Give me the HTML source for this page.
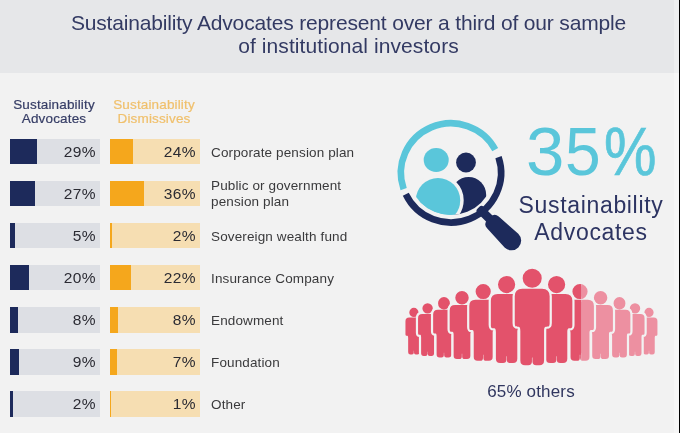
<!DOCTYPE html>
<html><head><meta charset="utf-8"><title>Sustainability Advocates</title>
<style>
html,body{margin:0;padding:0}
body{width:680px;height:433px;overflow:hidden;background:#f2f2f2;position:relative;font-family:"Liberation Sans",sans-serif}
.strip{position:absolute;left:674px;top:0;width:5px;height:433px;background:rgba(255,255,255,.3)}
.edge{position:absolute;left:678.8px;top:0;width:1.2px;height:433px;background:#000}
.hdr{position:absolute;left:0;top:0;width:679px;height:72.5px;background:#e6e7e9}
.t{position:absolute;left:0;width:697px;text-align:center;color:#333a63;font-size:21px;line-height:23px;white-space:nowrap}
.t1{top:10.5px;letter-spacing:-0.16px}
.t2{top:33.5px;letter-spacing:0.09px}
.ch{position:absolute;top:98px;-webkit-text-stroke:.2px currentColor;width:110px;text-align:center;font-size:13.5px;line-height:14px;letter-spacing:.15px;white-space:nowrap}
.ch1{left:-1px;color:#363d66}
.ch2{left:99px;color:#f0c06c}
.bar{position:absolute;height:24.9px;width:90px}
.bar i{position:absolute;left:0;top:0;height:100%;display:block}
.bar b{position:absolute;right:4px;top:0;line-height:26px;font-weight:normal;font-size:15.5px;letter-spacing:.3px;color:#2b2b33}
.ba{left:9.8px;background:#dddfe4}
.ba i{background:#1d2a5b}
.bd{left:109.7px;width:90.1px;background:#f6deb2}
.bd i{background:#f5a71c}
.lab{position:absolute;left:211px;font-size:13.5px;line-height:16px;letter-spacing:.13px;color:#3a3a3c;white-space:nowrap}
.big{position:absolute;left:0;top:112.7px;width:680px;height:78px;font-size:69px;line-height:78px;color:#5ac6da;white-space:nowrap}
.big span{position:absolute;top:0;transform-origin:0 0;display:block}
.sa{position:absolute;left:491px;width:200px;top:191.5px;text-align:center;font-size:23px;line-height:27px;letter-spacing:.66px;color:#2d3462;white-space:nowrap}
.oth{position:absolute;left:431px;width:200px;top:381.5px;text-align:center;font-size:17px;line-height:20px;letter-spacing:.17px;color:#30365f;white-space:nowrap}
svg{position:absolute;left:0;top:0}
</style></head><body>
<div class="hdr"></div>
<div class="strip"></div>
<div class="edge"></div>
<div class="t t1">Sustainability Advocates represent over a third of our sample</div>
<div class="t t2">of institutional investors</div>
<div class="ch ch1">Sustainability<br>Advocates</div>
<div class="ch ch2">Sustainability<br>Dismissives</div>
<div class="bar ba" style="top:139.2px;height:24.9px"><i style="width:27.1px"></i><b>29%</b></div>
<div class="bar bd" style="top:139.2px;height:24.9px"><i style="width:23.0px"></i><b>24%</b></div>
<div class="lab" style="top:144.6px">Corporate pension plan</div>
<div class="bar ba" style="top:181.2px;height:24.9px"><i style="width:25.3px"></i><b>27%</b></div>
<div class="bar bd" style="top:181.2px;height:24.9px"><i style="width:34.2px"></i><b>36%</b></div>
<div class="lab" style="top:178.0px">Public or government<br>pension plan</div>
<div class="bar ba" style="top:223.2px;height:24.9px"><i style="width:5.5px"></i><b>5%</b></div>
<div class="bar bd" style="top:223.2px;height:24.9px"><i style="width:2.6px"></i><b>2%</b></div>
<div class="lab" style="top:228.6px">Sovereign wealth fund</div>
<div class="bar ba" style="top:265.2px;height:25.1px"><i style="width:19.0px"></i><b>20%</b></div>
<div class="bar bd" style="top:265.2px;height:25.1px"><i style="width:21.2px"></i><b>22%</b></div>
<div class="lab" style="top:270.6px">Insurance Company</div>
<div class="bar ba" style="top:307.2px;height:25.9px"><i style="width:8.2px"></i><b>8%</b></div>
<div class="bar bd" style="top:307.2px;height:25.9px"><i style="width:8.1px"></i><b>8%</b></div>
<div class="lab" style="top:312.6px">Endowment</div>
<div class="bar ba" style="top:349.2px;height:25.9px"><i style="width:9.1px"></i><b>9%</b></div>
<div class="bar bd" style="top:349.2px;height:25.9px"><i style="width:7.2px"></i><b>7%</b></div>
<div class="lab" style="top:354.6px">Foundation</div>
<div class="bar ba" style="top:391.2px;height:25.9px"><i style="width:2.8px"></i><b>2%</b></div>
<div class="bar bd" style="top:391.2px;height:25.9px"><i style="width:1.6px"></i><b>1%</b></div>
<div class="lab" style="top:396.6px">Other</div>
<svg width="680" height="433" viewBox="0 0 680 433">
<defs>
<clipPath id="lens"><ellipse cx="451.0" cy="172.9" rx="42.6" ry="42.1"/></clipPath>
<clipPath id="cl"><rect x="0" y="0" width="581.4" height="433"/></clipPath>
<clipPath id="cr"><rect x="581.4" y="0" width="100" height="433"/></clipPath>
<g id="ppl">
<path d="M644.24,317.51H653.76Q657.44,317.51 657.44,321.19V334.11C657.44,335.86 656.90,335.86 656.09,335.86C655.28,335.86 654.74,335.86 654.74,337.96V352.24Q654.74,354.50 652.48,354.50H650.89Q649.12,354.50 649.12,352.73V350.82H648.88V352.73Q648.88,354.50 647.11,354.50H645.52Q643.26,354.50 643.26,352.24V337.96C643.26,335.86 642.72,335.86 641.91,335.86C641.10,335.86 640.56,335.86 640.56,334.11V321.19Q640.56,317.51 644.24,317.51ZM644.39,312.46a4.61,4.61 0 1,0 9.22,0a4.61,4.61 0 1,0 -9.22,0Z" fill="#f2f2f2" stroke="#f2f2f2" stroke-width="4.4" stroke-linejoin="round"/><path d="M644.24,317.51H653.76Q657.44,317.51 657.44,321.19V334.11C657.44,335.86 656.90,335.86 656.09,335.86C655.28,335.86 654.74,335.86 654.74,337.96V352.24Q654.74,354.50 652.48,354.50H650.89Q649.12,354.50 649.12,352.73V350.82H648.88V352.73Q648.88,354.50 647.11,354.50H645.52Q643.26,354.50 643.26,352.24V337.96C643.26,335.86 642.72,335.86 641.91,335.86C641.10,335.86 640.56,335.86 640.56,334.11V321.19Q640.56,317.51 644.24,317.51ZM644.39,312.46a4.61,4.61 0 1,0 9.22,0a4.61,4.61 0 1,0 -9.22,0Z"/>
<path d="M409.14,317.51H418.66Q422.34,317.51 422.34,321.19V334.11C422.34,335.86 421.80,335.86 420.99,335.86C420.18,335.86 419.64,335.86 419.64,337.96V352.24Q419.64,354.50 417.38,354.50H415.79Q414.02,354.50 414.02,352.73V350.82H413.78V352.73Q413.78,354.50 412.01,354.50H410.42Q408.16,354.50 408.16,352.24V337.96C408.16,335.86 407.62,335.86 406.81,335.86C406.00,335.86 405.46,335.86 405.46,334.11V321.19Q405.46,317.51 409.14,317.51ZM409.29,312.46a4.61,4.61 0 1,0 9.22,0a4.61,4.61 0 1,0 -9.22,0Z" fill="#f2f2f2" stroke="#f2f2f2" stroke-width="4.4" stroke-linejoin="round"/><path d="M409.14,317.51H418.66Q422.34,317.51 422.34,321.19V334.11C422.34,335.86 421.80,335.86 420.99,335.86C420.18,335.86 419.64,335.86 419.64,337.96V352.24Q419.64,354.50 417.38,354.50H415.79Q414.02,354.50 414.02,352.73V350.82H413.78V352.73Q413.78,354.50 412.01,354.50H410.42Q408.16,354.50 408.16,352.24V337.96C408.16,335.86 407.62,335.86 406.81,335.86C406.00,335.86 405.46,335.86 405.46,334.11V321.19Q405.46,317.51 409.14,317.51ZM409.29,312.46a4.61,4.61 0 1,0 9.22,0a4.61,4.61 0 1,0 -9.22,0Z"/>
<path d="M629.62,314.07H640.38Q644.54,314.07 644.54,318.23V332.84C644.54,334.82 643.93,334.82 643.02,334.82C642.10,334.82 641.49,334.82 641.49,337.20V353.35Q641.49,355.90 638.94,355.90H637.14Q635.14,355.90 635.14,353.90V351.74H634.86V353.90Q634.86,355.90 632.86,355.90H631.06Q628.51,355.90 628.51,353.35V337.20C628.51,334.82 627.90,334.82 626.98,334.82C626.07,334.82 625.46,334.82 625.46,332.84V318.23Q625.46,314.07 629.62,314.07ZM629.79,308.36a5.21,5.21 0 1,0 10.43,0a5.21,5.21 0 1,0 -10.43,0Z" fill="#f2f2f2" stroke="#f2f2f2" stroke-width="4.4" stroke-linejoin="round"/><path d="M629.62,314.07H640.38Q644.54,314.07 644.54,318.23V332.84C644.54,334.82 643.93,334.82 643.02,334.82C642.10,334.82 641.49,334.82 641.49,337.20V353.35Q641.49,355.90 638.94,355.90H637.14Q635.14,355.90 635.14,353.90V351.74H634.86V353.90Q634.86,355.90 632.86,355.90H631.06Q628.51,355.90 628.51,353.35V337.20C628.51,334.82 627.90,334.82 626.98,334.82C626.07,334.82 625.46,334.82 625.46,332.84V318.23Q625.46,314.07 629.62,314.07ZM629.79,308.36a5.21,5.21 0 1,0 10.43,0a5.21,5.21 0 1,0 -10.43,0Z"/>
<path d="M422.22,314.07H432.98Q437.14,314.07 437.14,318.23V332.84C437.14,334.82 436.53,334.82 435.62,334.82C434.70,334.82 434.09,334.82 434.09,337.20V353.35Q434.09,355.90 431.54,355.90H429.74Q427.74,355.90 427.74,353.90V351.74H427.46V353.90Q427.46,355.90 425.46,355.90H423.66Q421.11,355.90 421.11,353.35V337.20C421.11,334.82 420.50,334.82 419.58,334.82C418.67,334.82 418.06,334.82 418.06,332.84V318.23Q418.06,314.07 422.22,314.07ZM422.39,308.36a5.21,5.21 0 1,0 10.43,0a5.21,5.21 0 1,0 -10.43,0Z" fill="#f2f2f2" stroke="#f2f2f2" stroke-width="4.4" stroke-linejoin="round"/><path d="M422.22,314.07H432.98Q437.14,314.07 437.14,318.23V332.84C437.14,334.82 436.53,334.82 435.62,334.82C434.70,334.82 434.09,334.82 434.09,337.20V353.35Q434.09,355.90 431.54,355.90H429.74Q427.74,355.90 427.74,353.90V351.74H427.46V353.90Q427.46,355.90 425.46,355.90H423.66Q421.11,355.90 421.11,353.35V337.20C421.11,334.82 420.50,334.82 419.58,334.82C418.67,334.82 418.06,334.82 418.06,332.84V318.23Q418.06,314.07 422.22,314.07ZM422.39,308.36a5.21,5.21 0 1,0 10.43,0a5.21,5.21 0 1,0 -10.43,0Z"/>
<path d="M613.37,309.78H625.63Q630.36,309.78 630.36,314.52V331.14C630.36,333.40 629.67,333.40 628.63,333.40C627.58,333.40 626.89,333.40 626.89,336.11V354.49Q626.89,357.40 623.98,357.40H621.93Q619.66,357.40 619.66,355.13V352.66H619.34V355.13Q619.34,357.40 617.07,357.40H615.02Q612.11,357.40 612.11,354.49V336.11C612.11,333.40 611.42,333.40 610.37,333.40C609.33,333.40 608.64,333.40 608.64,331.14V314.52Q608.64,309.78 613.37,309.78ZM613.56,303.27a5.94,5.94 0 1,0 11.87,0a5.94,5.94 0 1,0 -11.87,0Z" fill="#f2f2f2" stroke="#f2f2f2" stroke-width="4.4" stroke-linejoin="round"/><path d="M613.37,309.78H625.63Q630.36,309.78 630.36,314.52V331.14C630.36,333.40 629.67,333.40 628.63,333.40C627.58,333.40 626.89,333.40 626.89,336.11V354.49Q626.89,357.40 623.98,357.40H621.93Q619.66,357.40 619.66,355.13V352.66H619.34V355.13Q619.34,357.40 617.07,357.40H615.02Q612.11,357.40 612.11,354.49V336.11C612.11,333.40 611.42,333.40 610.37,333.40C609.33,333.40 608.64,333.40 608.64,331.14V314.52Q608.64,309.78 613.37,309.78ZM613.56,303.27a5.94,5.94 0 1,0 11.87,0a5.94,5.94 0 1,0 -11.87,0Z"/>
<path d="M437.87,309.78H450.13Q454.86,309.78 454.86,314.52V331.14C454.86,333.40 454.17,333.40 453.13,333.40C452.08,333.40 451.39,333.40 451.39,336.11V354.49Q451.39,357.40 448.48,357.40H446.43Q444.16,357.40 444.16,355.13V352.66H443.84V355.13Q443.84,357.40 441.57,357.40H439.52Q436.61,357.40 436.61,354.49V336.11C436.61,333.40 435.92,333.40 434.87,333.40C433.83,333.40 433.14,333.40 433.14,331.14V314.52Q433.14,309.78 437.87,309.78ZM438.06,303.27a5.94,5.94 0 1,0 11.87,0a5.94,5.94 0 1,0 -11.87,0Z" fill="#f2f2f2" stroke="#f2f2f2" stroke-width="4.4" stroke-linejoin="round"/><path d="M437.87,309.78H450.13Q454.86,309.78 454.86,314.52V331.14C454.86,333.40 454.17,333.40 453.13,333.40C452.08,333.40 451.39,333.40 451.39,336.11V354.49Q451.39,357.40 448.48,357.40H446.43Q444.16,357.40 444.16,355.13V352.66H443.84V355.13Q443.84,357.40 441.57,357.40H439.52Q436.61,357.40 436.61,354.49V336.11C436.61,333.40 435.92,333.40 434.87,333.40C433.83,333.40 433.14,333.40 433.14,331.14V314.52Q433.14,309.78 437.87,309.78ZM438.06,303.27a5.94,5.94 0 1,0 11.87,0a5.94,5.94 0 1,0 -11.87,0Z"/>
<path d="M593.66,305.03H607.54Q612.91,305.03 612.91,310.40V329.24C612.91,331.80 612.12,331.80 610.94,331.80C609.76,331.80 608.97,331.80 608.97,334.87V355.71Q608.97,359.00 605.68,359.00H603.36Q600.78,359.00 600.78,356.42V353.63H600.42V356.42Q600.42,359.00 597.84,359.00H595.52Q592.23,359.00 592.23,355.71V334.87C592.23,331.80 591.44,331.80 590.26,331.80C589.08,331.80 588.29,331.80 588.29,329.24V310.40Q588.29,305.03 593.66,305.03ZM593.87,297.66a6.73,6.73 0 1,0 13.46,0a6.73,6.73 0 1,0 -13.46,0Z" fill="#f2f2f2" stroke="#f2f2f2" stroke-width="4.4" stroke-linejoin="round"/><path d="M593.66,305.03H607.54Q612.91,305.03 612.91,310.40V329.24C612.91,331.80 612.12,331.80 610.94,331.80C609.76,331.80 608.97,331.80 608.97,334.87V355.71Q608.97,359.00 605.68,359.00H603.36Q600.78,359.00 600.78,356.42V353.63H600.42V356.42Q600.42,359.00 597.84,359.00H595.52Q592.23,359.00 592.23,355.71V334.87C592.23,331.80 591.44,331.80 590.26,331.80C589.08,331.80 588.29,331.80 588.29,329.24V310.40Q588.29,305.03 593.66,305.03ZM593.87,297.66a6.73,6.73 0 1,0 13.46,0a6.73,6.73 0 1,0 -13.46,0Z"/>
<path d="M455.06,305.03H468.94Q474.31,305.03 474.31,310.40V329.24C474.31,331.80 473.52,331.80 472.34,331.80C471.16,331.80 470.37,331.80 470.37,334.87V355.71Q470.37,359.00 467.08,359.00H464.76Q462.18,359.00 462.18,356.42V353.63H461.82V356.42Q461.82,359.00 459.24,359.00H456.92Q453.63,359.00 453.63,355.71V334.87C453.63,331.80 452.84,331.80 451.66,331.80C450.48,331.80 449.69,331.80 449.69,329.24V310.40Q449.69,305.03 455.06,305.03ZM455.27,297.66a6.73,6.73 0 1,0 13.46,0a6.73,6.73 0 1,0 -13.46,0Z" fill="#f2f2f2" stroke="#f2f2f2" stroke-width="4.4" stroke-linejoin="round"/><path d="M455.06,305.03H468.94Q474.31,305.03 474.31,310.40V329.24C474.31,331.80 473.52,331.80 472.34,331.80C471.16,331.80 470.37,331.80 470.37,334.87V355.71Q470.37,359.00 467.08,359.00H464.76Q462.18,359.00 462.18,356.42V353.63H461.82V356.42Q461.82,359.00 459.24,359.00H456.92Q453.63,359.00 453.63,355.71V334.87C453.63,331.80 452.84,331.80 451.66,331.80C450.48,331.80 449.69,331.80 449.69,329.24V310.40Q449.69,305.03 455.06,305.03ZM455.27,297.66a6.73,6.73 0 1,0 13.46,0a6.73,6.73 0 1,0 -13.46,0Z"/>
<path d="M572.16,299.85H587.84Q593.90,299.85 593.90,305.91V327.19C593.90,330.08 593.02,330.08 591.68,330.08C590.35,330.08 589.46,330.08 589.46,333.55V357.08Q589.46,360.80 585.74,360.80H583.11Q580.20,360.80 580.20,357.89V354.74H579.80V357.89Q579.80,360.80 576.89,360.80H574.26Q570.54,360.80 570.54,357.08V333.55C570.54,330.08 569.65,330.08 568.32,330.08C566.98,330.08 566.10,330.08 566.10,327.19V305.91Q566.10,299.85 572.16,299.85ZM572.40,291.52a7.60,7.60 0 1,0 15.20,0a7.60,7.60 0 1,0 -15.20,0Z" fill="#f2f2f2" stroke="#f2f2f2" stroke-width="4.4" stroke-linejoin="round"/><path d="M572.16,299.85H587.84Q593.90,299.85 593.90,305.91V327.19C593.90,330.08 593.02,330.08 591.68,330.08C590.35,330.08 589.46,330.08 589.46,333.55V357.08Q589.46,360.80 585.74,360.80H583.11Q580.20,360.80 580.20,357.89V354.74H579.80V357.89Q579.80,360.80 576.89,360.80H574.26Q570.54,360.80 570.54,357.08V333.55C570.54,330.08 569.65,330.08 568.32,330.08C566.98,330.08 566.10,330.08 566.10,327.19V305.91Q566.10,299.85 572.16,299.85ZM572.40,291.52a7.60,7.60 0 1,0 15.20,0a7.60,7.60 0 1,0 -15.20,0Z"/>
<path d="M475.36,299.85H491.04Q497.10,299.85 497.10,305.91V327.19C497.10,330.08 496.22,330.08 494.88,330.08C493.55,330.08 492.66,330.08 492.66,333.55V357.08Q492.66,360.80 488.94,360.80H486.31Q483.40,360.80 483.40,357.89V354.74H483.00V357.89Q483.00,360.80 480.09,360.80H477.46Q473.74,360.80 473.74,357.08V333.55C473.74,330.08 472.85,330.08 471.52,330.08C470.18,330.08 469.30,330.08 469.30,327.19V305.91Q469.30,299.85 475.36,299.85ZM475.60,291.52a7.60,7.60 0 1,0 15.20,0a7.60,7.60 0 1,0 -15.20,0Z" fill="#f2f2f2" stroke="#f2f2f2" stroke-width="4.4" stroke-linejoin="round"/><path d="M475.36,299.85H491.04Q497.10,299.85 497.10,305.91V327.19C497.10,330.08 496.22,330.08 494.88,330.08C493.55,330.08 492.66,330.08 492.66,333.55V357.08Q492.66,360.80 488.94,360.80H486.31Q483.40,360.80 483.40,357.89V354.74H483.00V357.89Q483.00,360.80 480.09,360.80H477.46Q473.74,360.80 473.74,357.08V333.55C473.74,330.08 472.85,330.08 471.52,330.08C470.18,330.08 469.30,330.08 469.30,327.19V305.91Q469.30,299.85 475.36,299.85ZM475.60,291.52a7.60,7.60 0 1,0 15.20,0a7.60,7.60 0 1,0 -15.20,0Z"/>
<path d="M547.72,293.95H565.48Q572.35,293.95 572.35,300.82V324.93C572.35,328.20 571.34,328.20 569.83,328.20C568.32,328.20 567.31,328.20 567.31,332.13V358.79Q567.31,363.00 563.10,363.00H560.13Q556.83,363.00 556.83,359.70V356.13H556.37V359.70Q556.37,363.00 553.07,363.00H550.10Q545.89,363.00 545.89,358.79V332.13C545.89,328.20 544.88,328.20 543.37,328.20C541.86,328.20 540.85,328.20 540.85,324.93V300.82Q540.85,293.95 547.72,293.95ZM547.99,284.52a8.61,8.61 0 1,0 17.22,0a8.61,8.61 0 1,0 -17.22,0Z" fill="#f2f2f2" stroke="#f2f2f2" stroke-width="4.4" stroke-linejoin="round"/><path d="M547.72,293.95H565.48Q572.35,293.95 572.35,300.82V324.93C572.35,328.20 571.34,328.20 569.83,328.20C568.32,328.20 567.31,328.20 567.31,332.13V358.79Q567.31,363.00 563.10,363.00H560.13Q556.83,363.00 556.83,359.70V356.13H556.37V359.70Q556.37,363.00 553.07,363.00H550.10Q545.89,363.00 545.89,358.79V332.13C545.89,328.20 544.88,328.20 543.37,328.20C541.86,328.20 540.85,328.20 540.85,324.93V300.82Q540.85,293.95 547.72,293.95ZM547.99,284.52a8.61,8.61 0 1,0 17.22,0a8.61,8.61 0 1,0 -17.22,0Z"/>
<path d="M497.72,293.95H515.48Q522.35,293.95 522.35,300.82V324.93C522.35,328.20 521.34,328.20 519.83,328.20C518.32,328.20 517.31,328.20 517.31,332.13V358.79Q517.31,363.00 513.10,363.00H510.13Q506.83,363.00 506.83,359.70V356.13H506.37V359.70Q506.37,363.00 503.07,363.00H500.10Q495.89,363.00 495.89,358.79V332.13C495.89,328.20 494.88,328.20 493.37,328.20C491.86,328.20 490.85,328.20 490.85,324.93V300.82Q490.85,293.95 497.72,293.95ZM497.99,284.52a8.61,8.61 0 1,0 17.22,0a8.61,8.61 0 1,0 -17.22,0Z" fill="#f2f2f2" stroke="#f2f2f2" stroke-width="4.4" stroke-linejoin="round"/><path d="M497.72,293.95H515.48Q522.35,293.95 522.35,300.82V324.93C522.35,328.20 521.34,328.20 519.83,328.20C518.32,328.20 517.31,328.20 517.31,332.13V358.79Q517.31,363.00 513.10,363.00H510.13Q506.83,363.00 506.83,359.70V356.13H506.37V359.70Q506.37,363.00 503.07,363.00H500.10Q495.89,363.00 495.89,358.79V332.13C495.89,328.20 494.88,328.20 493.37,328.20C491.86,328.20 490.85,328.20 490.85,324.93V300.82Q490.85,293.95 497.72,293.95ZM497.99,284.52a8.61,8.61 0 1,0 17.22,0a8.61,8.61 0 1,0 -17.22,0Z"/>
<path d="M522.36,288.69H542.04Q549.65,288.69 549.65,296.30V323.01C549.65,326.64 548.54,326.64 546.86,326.64C545.19,326.64 544.07,326.64 544.07,330.99V360.53Q544.07,365.20 539.40,365.20H536.11Q532.45,365.20 532.45,361.55V357.59H531.95V361.55Q531.95,365.20 528.29,365.20H525.00Q520.33,365.20 520.33,360.53V330.99C520.33,326.64 519.21,326.64 517.54,326.64C515.86,326.64 514.75,326.64 514.75,323.01V296.30Q514.75,288.69 522.36,288.69ZM522.66,278.24a9.54,9.54 0 1,0 19.08,0a9.54,9.54 0 1,0 -19.08,0Z" fill="#f2f2f2" stroke="#f2f2f2" stroke-width="4.4" stroke-linejoin="round"/><path d="M522.36,288.69H542.04Q549.65,288.69 549.65,296.30V323.01C549.65,326.64 548.54,326.64 546.86,326.64C545.19,326.64 544.07,326.64 544.07,330.99V360.53Q544.07,365.20 539.40,365.20H536.11Q532.45,365.20 532.45,361.55V357.59H531.95V361.55Q531.95,365.20 528.29,365.20H525.00Q520.33,365.20 520.33,360.53V330.99C520.33,326.64 519.21,326.64 517.54,326.64C515.86,326.64 514.75,326.64 514.75,323.01V296.30Q514.75,288.69 522.36,288.69ZM522.66,278.24a9.54,9.54 0 1,0 19.08,0a9.54,9.54 0 1,0 -19.08,0Z"/>
</g>
</defs>
<!-- magnifier -->
<path d="M495.24,149.61A50.1,49.6 0 0,0 403.63,189.05" fill="none" stroke="#5ac6da" stroke-width="6.6"/>
<path d="M498.51,157.16A50.1,49.6 0 0,1 405.78,194.25" fill="none" stroke="#1d2a5b" stroke-width="6.6"/>
<g transform="translate(479.5,208.9) rotate(44.6)" fill="#1d2a5b">
<rect x="-1.5" y="-4.4" width="24" height="8.8" rx="3"/>
<path d="M19,-8.1 L45,-9.6 A9.75,9.75 0 0,1 45,9.9 L19,8.5 Q13.4,8.3 13.4,2.5 V-2.5 Q13.4,-7.8 19,-8.1Z"/>
</g>
<g clip-path="url(#lens)">
<path d="M451,230 V195 A17.6,18 0 0,1 486.2,195 V230Z" fill="#1d2a5b"/>
<ellipse cx="438" cy="200.2" rx="22.2" ry="22.2" fill="#5ac6da" stroke="#f2f2f2" stroke-width="7"/>
<path d="M415.8,200.2 A22.2,22.2 0 0,1 460.2,200.2 A22.2,22.2 0 0,1 449,219.4 L430,230 H415.8Z" fill="#5ac6da"/>
</g>
<circle cx="466" cy="162.5" r="9.9" fill="#1d2a5b"/>
<ellipse cx="436.2" cy="160" rx="12.5" ry="11.9" fill="#5ac6da"/>
<!-- people -->
<g fill="#ed90a1"><use href="#ppl"/></g>
<g clip-path="url(#cl)" fill="#e3526b"><use href="#ppl"/></g>

</svg>
<div class="big"><span style="left:526px;transform:scaleX(1)">3</span><span style="left:565.3px;transform:scaleX(.93)">5</span><span style="left:604px;transform:scaleX(.855);-webkit-text-stroke:.7px #5ac6da">%</span></div>
<div class="sa">Sustainability<br>Advocates</div>
<div class="oth">65% others</div>
</body></html>
